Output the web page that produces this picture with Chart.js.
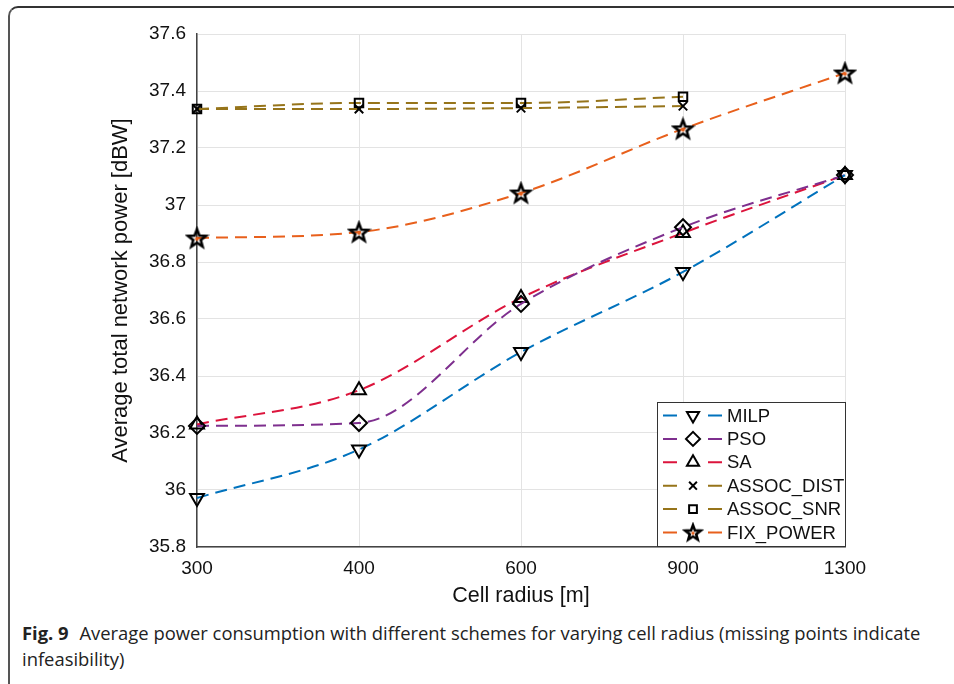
<!DOCTYPE html>
<html>
<head>
<meta charset="utf-8">
<script src="https://cdn.jsdelivr.net/npm/chart.js@4"></script>
<style>
  body { margin: 0; background: #fff; }
  #quadro {
    position: absolute; left: 8px; top: 6px; width: 960px; height: 690px;
    border-top: 2px solid #333; border-left: 2px solid #555;
    border-top-left-radius: 10px;
  }
  #grafico { position: absolute; left: 0; top: 0; }
  #legenda {
    position: absolute; left: 22px; top: 620px; width: 920px;
    font-family: "Open Sans", sans-serif;
    font-size: 18.4px; line-height: 26px; color: #222; white-space: nowrap;
  }
  #legenda b { font-weight: bold; margin-right: 6px; }
</style>
</head>
<body>
<div id="quadro"></div>
<canvas id="grafico" width="954" height="613"></canvas>
<div id="legenda"><b>Fig. 9</b> Average power consumption with different schemes for varying cell radius (missing points indicate<br>infeasibility)</div>
<script>
// Dados
const raios = ['300', '400', '600', '900', '1300'];
const milp = [35.972, 36.142, 36.484, 36.765, 37.105];
const pso = [36.225, 36.235, 36.653, 36.922, 37.105];
const sa = [36.230, 36.350, 36.674, 36.902, 37.105];
const assocDist = [37.337, 37.337, 37.340, 37.347, null];
const assocSnr = [37.337, 37.358, 37.358, 37.380, null];
const fixPower = [36.884, 36.905, 37.042, 37.267, 37.463];
const yTicks = [35.8, 36, 36.2, 36.4, 36.6, 36.8, 37, 37.2, 37.4, 37.6];

// Estrela de 5 pontas para o FIX_POWER
function criarEstrela(raio) {
    const t = Math.ceil(raio * 2 + 6);
    const c = document.createElement('canvas');
    c.width = t; c.height = t;
    const ctx = c.getContext('2d');
    const cx = t / 2, cy = t / 2 + raio * 0.08;
    ctx.beginPath();
    for (let i = 0; i < 10; i++) {
        const r = i % 2 === 0 ? raio : raio * 0.42;
        const a = -Math.PI / 2 + i * Math.PI / 5;
        const x = cx + r * Math.cos(a);
        const y = cy + r * Math.sin(a);
        if (i === 0) ctx.moveTo(x, y); else ctx.lineTo(x, y);
    }
    ctx.closePath();
    ctx.lineWidth = 2.6;
    ctx.strokeStyle = '#000';
    ctx.stroke();
    ctx.fillStyle = '#e8601c';
    ctx.beginPath();
    ctx.arc(cx, cy, raio * 0.2, 0, Math.PI * 2);
    ctx.fill();
    return c;
}
const estrela = criarEstrela(9.5);
const estrelaPequena = criarEstrela(8);

function serie(label, data, cor, estilo, raio, rotacao) {
    return {
        label: label,
        data: data,
        borderColor: cor,
        backgroundColor: cor,
        borderWidth: 2,
        borderDash: [12, 7],
        cubicInterpolationMode: 'monotone',
        spanGaps: false,
        pointStyle: estilo,
        pointRadius: raio,
        pointRotation: rotacao || 0,
        pointBorderColor: '#000',
        pointBackgroundColor: 'rgba(0,0,0,0)',
        pointBorderWidth: 2
    };
}

// Legenda dentro da área do gráfico, como no MATLAB
const legendaInterna = {
    id: 'legendaInterna',
    afterDraw(chart) {
        const ctx = chart.ctx;
        const area = chart.chartArea;
        const w = 188, h = 144;
        const x0 = area.right - w, y0 = area.bottom - h - 1;
        ctx.save();
        ctx.fillStyle = '#fff';
        ctx.fillRect(x0, y0, w, h);
        ctx.strokeStyle = '#333';
        ctx.lineWidth = 1;
        ctx.strokeRect(x0 + 0.5, y0 + 0.5, w, h);
        ctx.font = '18.5px "Liberation Sans", Arial, sans-serif';
        ctx.textBaseline = 'middle';
        chart.data.datasets.forEach((ds, i) => {
            const y = y0 + 13.5 + i * 23.4;
            ctx.strokeStyle = ds.borderColor;
            ctx.lineWidth = 2;
            ctx.setLineDash([]);
            ctx.beginPath();
            ctx.moveTo(x0 + 6, y); ctx.lineTo(x0 + 20, y);
            ctx.moveTo(x0 + 51, y); ctx.lineTo(x0 + 65, y);
            ctx.stroke();
            ctx.strokeStyle = '#000';
            ctx.fillStyle = 'rgba(0,0,0,0)';
            ctx.lineWidth = 2;
            let estilo = ds.pointStyle === estrela ? estrelaPequena : ds.pointStyle;
            let r = ds.pointRadius > 6 ? 7 : 5.5;
            Chart.helpers.drawPoint(ctx, {
                pointStyle: estilo, radius: r,
                rotation: ds.pointRotation, borderWidth: 2
            }, x0 + 36, y);
            ctx.fillStyle = '#111';
            ctx.fillText(ds.label, x0 + 70, y + 1);
        });
        ctx.restore();
    }
};

const fonteEixo = { family: '"Liberation Sans", Arial, sans-serif', size: 19 };

new Chart(document.getElementById('grafico'), {
    type: 'line',
    data: {
        labels: raios,
        datasets: [
            serie('MILP', milp, '#0072bd', 'triangle', 8, 180),
            serie('PSO', pso, '#7e2f8e', 'rectRot', 8),
            serie('SA', sa, '#dc143c', 'triangle', 8),
            serie('ASSOC_DIST', assocDist, '#96741a', 'crossRot', 6),
            serie('ASSOC_SNR', assocSnr, '#96741a', 'rect', 6),
            serie('FIX_POWER', fixPower, '#e8601c', estrela, 10)
        ]
    },
    options: {
        responsive: false,
        animation: false,
        layout: { padding: { left: 108, top: 34, right: 109, bottom: 0 } },
        plugins: { legend: { display: false }, tooltip: { enabled: false } },
        scales: {
            x: {
                type: 'category',
                offset: false,
                grid: { color: '#e3e3e3', drawTicks: false },
                border: { color: '#444', width: 1.5 },
                ticks: { color: '#111', font: fonteEixo, padding: 10, maxRotation: 0 },
                title: { display: true, text: 'Cell radius [m]', color: '#111',
                         font: { family: '"Liberation Sans", Arial, sans-serif', size: 21.5 }, padding: { top: 5 } },
                afterFit(scale) { scale.height = 66; }
            },
            y: {
                min: 35.8,
                max: 37.6,
                grid: { color: '#e3e3e3', drawTicks: false },
                border: { color: '#444', width: 1.5 },
                afterBuildTicks(scale) { scale.ticks = yTicks.map(v => ({ value: v })); },
                ticks: {
                    color: '#111', font: fonteEixo, padding: 11,
                    callback: v => String(parseFloat(Number(v).toFixed(1)))
                },
                title: { display: true, text: 'Average total network power [dBW]', color: '#111',
                         font: { family: '"Liberation Sans", Arial, sans-serif', size: 22 }, padding: 0 },
                afterFit(scale) { scale.width = 89; }
            }
        }
    },
    plugins: [legendaInterna]
});
</script>
</body>
</html>
